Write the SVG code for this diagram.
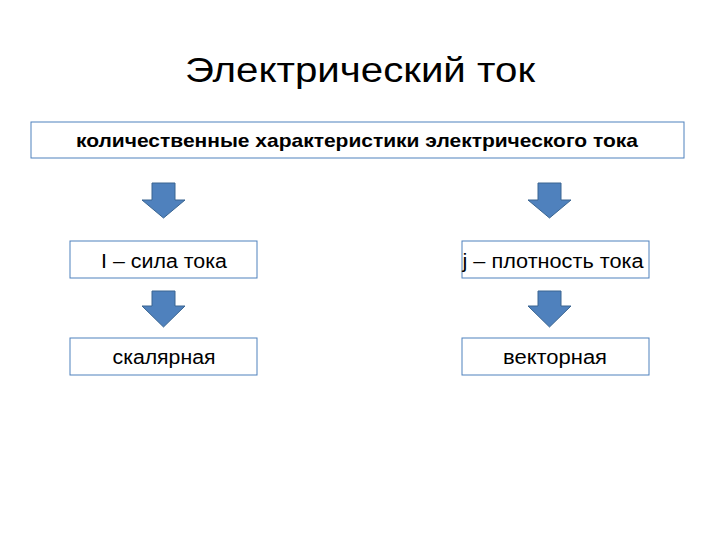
<svg xmlns="http://www.w3.org/2000/svg" width="720" height="540" viewBox="0 0 720 540">
<style>
.box{fill:#fff;stroke:#4f81bd;stroke-width:1}
.t{font-family:"Liberation Sans",Arial,sans-serif;fill:#000;text-anchor:middle}
.arr{fill:#4f81bd;stroke:#3a6591;stroke-width:1}
</style>
<rect width="720" height="540" fill="#fff"/>
<text class="t" x="360" y="82" font-size="35" textLength="350" lengthAdjust="spacingAndGlyphs">Электрический ток</text>
<g id="top"><rect class="box" x="31" y="122" width="653" height="36"/>
<text class="t" x="357" y="147" font-size="19" font-weight="bold" textLength="562" lengthAdjust="spacingAndGlyphs">количественные характеристики электрического тока</text></g>
<g id="sila"><rect class="box" x="70" y="241" width="187" height="37"/>
<text class="t" x="164" y="268" font-size="20" textLength="126" lengthAdjust="spacingAndGlyphs">I – сила тока</text></g>
<g id="plot"><rect class="box" x="462" y="241" width="187" height="37"/>
<text class="t" x="553" y="268" font-size="20" textLength="181" lengthAdjust="spacingAndGlyphs">j – плотность тока</text></g>
<g id="skal"><rect class="box" x="70" y="338" width="187" height="37"/>
<text class="t" x="164" y="364" font-size="20" textLength="103" lengthAdjust="spacingAndGlyphs">скалярная</text></g>
<g id="vekt"><rect class="box" x="462" y="338" width="187" height="37"/>
<text class="t" x="555" y="364" font-size="20" textLength="104" lengthAdjust="spacingAndGlyphs">векторная</text></g>
<g id="connectors">
<path class="arr" d="M152,183 H175 V200 H185 L163.5,218 L142,200 H152 Z"/>
<path class="arr" d="M538,183 H561 V200 H571 L549.5,218 L528,200 H538 Z"/>
<path class="arr" d="M152,291 H175 V306 H185 L163.5,327 L142,306 H152 Z"/>
<path class="arr" d="M538,291 H561 V306 H571 L549.5,327 L528,306 H538 Z"/>
</g>
</svg>
